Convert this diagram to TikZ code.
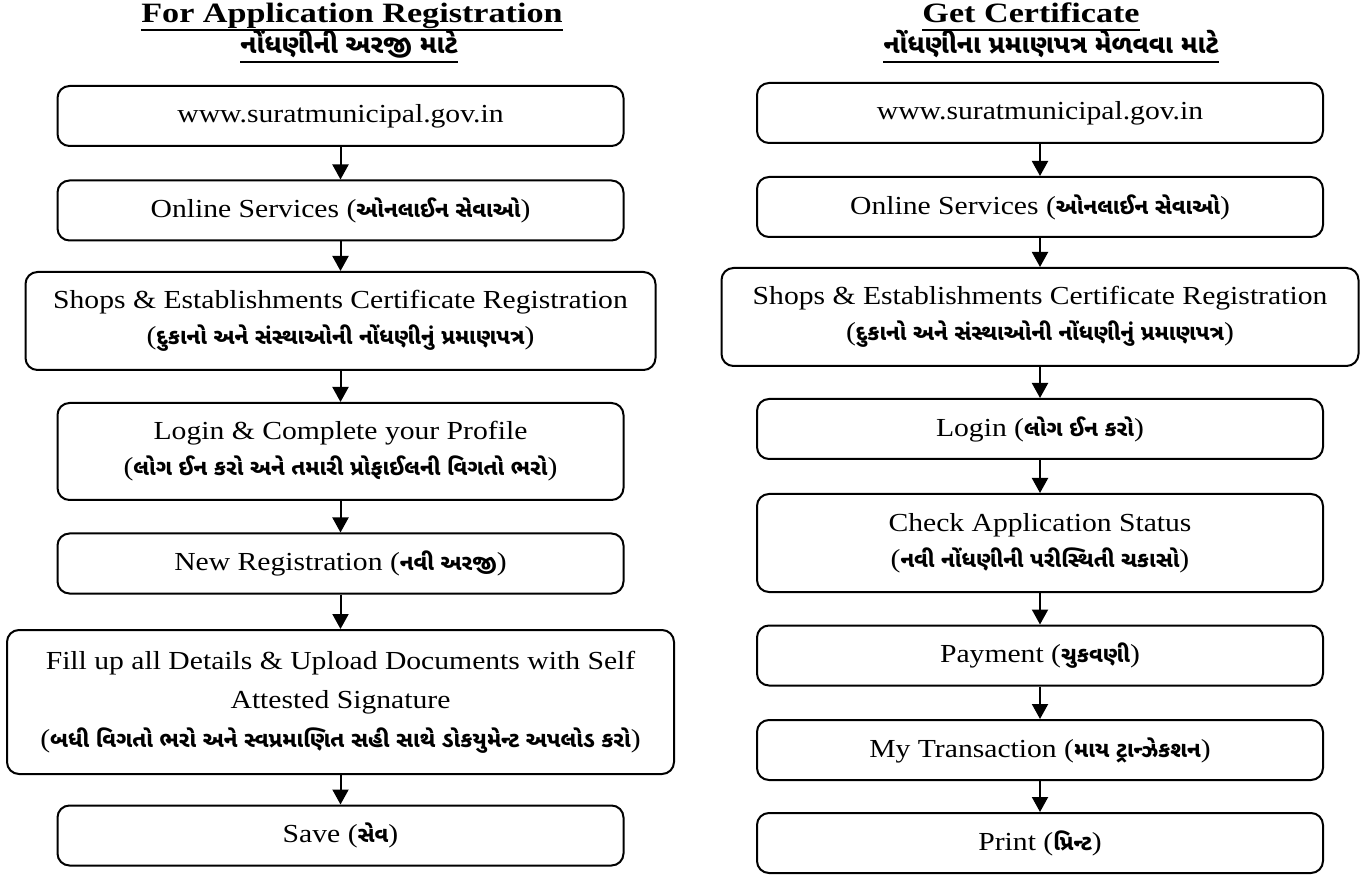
\documentclass[tikz,border=0pt]{standalone}
\usepackage{fontspec}
\setmainfont[FakeStretch=1.14]{Liberation Serif}
\newfontfamily\headfont[FakeStretch=1.22]{Liberation Serif}
\newfontfamily\gujfont[Script=Gujarati]{Noto Sans Gujarati UI}
\usetikzlibrary{arrows.meta}

\newcommand{\guj}[1]{{\gujfont\bfseries\fontsize{11pt}{18pt}\selectfont #1}}

\begin{document}
\begin{tikzpicture}[x=0.5pt,y=-0.5pt,
    stepbox/.style={draw,line width=1pt,rounded corners=6pt,align=center,inner sep=0pt,
      minimum width=283pt,minimum height=30pt,font=\fontsize{13pt}{18pt}\selectfont},
    flow/.style={line width=1pt,-{Triangle[length=7.5pt,width=8pt]}},
    head/.style={inner sep=0pt,anchor=base,font=\headfont\bfseries\fontsize{14pt}{16pt}\selectfont},
    gujhead/.style={inner sep=0pt,anchor=base,font=\gujfont\bfseries\fontsize{13pt}{16pt}\selectfont},
    uline/.style={line width=1pt}]
    \useasboundingbox (0,0) rectangle (1370,876);

    \node[head] (h1) at (352,23) {For Application Registration};
    \node[gujhead] (h2) at (349,54) {નોંધણીની અરજી માટે};
    \node[head] (g1) at (1031,23) {Get Certificate};
    \node[gujhead] (g2) at (1051,54) {નોંધણીના પ્રમાણપત્ર મેળવવા માટે};
    \foreach \h in {h1,g1}{\draw[uline] ([yshift=-3.5pt]\h.base west) -- ([yshift=-3.5pt]\h.base east);}
    \foreach \h in {h2,g2}{\draw[uline] ([yshift=-4pt]\h.base west) -- ([yshift=-4pt]\h.base east);}

    \node[stepbox] (b1) at (340.5,116) {www.suratmunicipal.gov.in};
    \node[stepbox] (b2) at (340.5,210.5) {Online Services (\guj{ઓનલાઈન સેવાઓ})};
    \node[stepbox,minimum width=315pt,minimum height=49pt] (b3) at (340.5,321)
        {Shops \& Establishments Certificate Registration\\(\guj{દુકાનો અને સંસ્થાઓની નોંધણીનું પ્રમાણપત્ર})};
    \node[stepbox,minimum height=48.5pt] (b4) at (340.5,451.5)
        {Login \& Complete your Profile\\(\guj{લોગ ઈન કરો અને તમારી પ્રોફાઈલની વિગતો ભરો})};
    \node[stepbox] (b5) at (340.5,563.5) {New Registration (\guj{નવી અરજી})};
    \node[stepbox,minimum width=333.5pt,minimum height=72pt,font=\fontsize{13pt}{19.5pt}\selectfont] (b6) at (340.5,702)
        {Fill up all Details \& Upload Documents with Self\\Attested Signature\\(\guj{બધી વિગતો ભરો અને સ્વપ્રમાણિત સહી સાથે ડોકયુમેન્ટ અપલોડ કરો})};
    \node[stepbox] (b7) at (340.5,835.5) {Save (\guj{સેવ})};

    \node[stepbox] (r1) at (1040,113) {www.suratmunicipal.gov.in};
    \node[stepbox] (r2) at (1040,207) {Online Services (\guj{ઓનલાઈન સેવાઓ})};
    \node[stepbox,minimum width=318.5pt,minimum height=49pt] (r3) at (1040,317)
        {Shops \& Establishments Certificate Registration\\(\guj{દુકાનો અને સંસ્થાઓની નોંધણીનું પ્રમાણપત્ર})};
    \node[stepbox] (r4) at (1040,429) {Login (\guj{લોગ ઈન કરો})};
    \node[stepbox,minimum height=49pt] (r5) at (1040,543)
        {Check Application Status\\(\guj{નવી નોંધણીની પરીસ્થિતી ચકાસો})};
    \node[stepbox] (r6) at (1040,655.5) {Payment (\guj{ચુકવણી})};
    \node[stepbox] (r7) at (1040,750) {My Transaction (\guj{માય ટ્રાન્ઝેકશન})};
    \node[stepbox] (r8) at (1040,843) {Print (\guj{પ્રિન્ટ})};

    \foreach \a/\b in {b1/b2,b2/b3,b3/b4,b4/b5,b5/b6,b6/b7,r1/r2,r2/r3,r3/r4,r4/r5,r5/r6,r6/r7,r7/r8}
        {\draw[flow] (\a) -- (\b);}
\end{tikzpicture}
\end{document}
